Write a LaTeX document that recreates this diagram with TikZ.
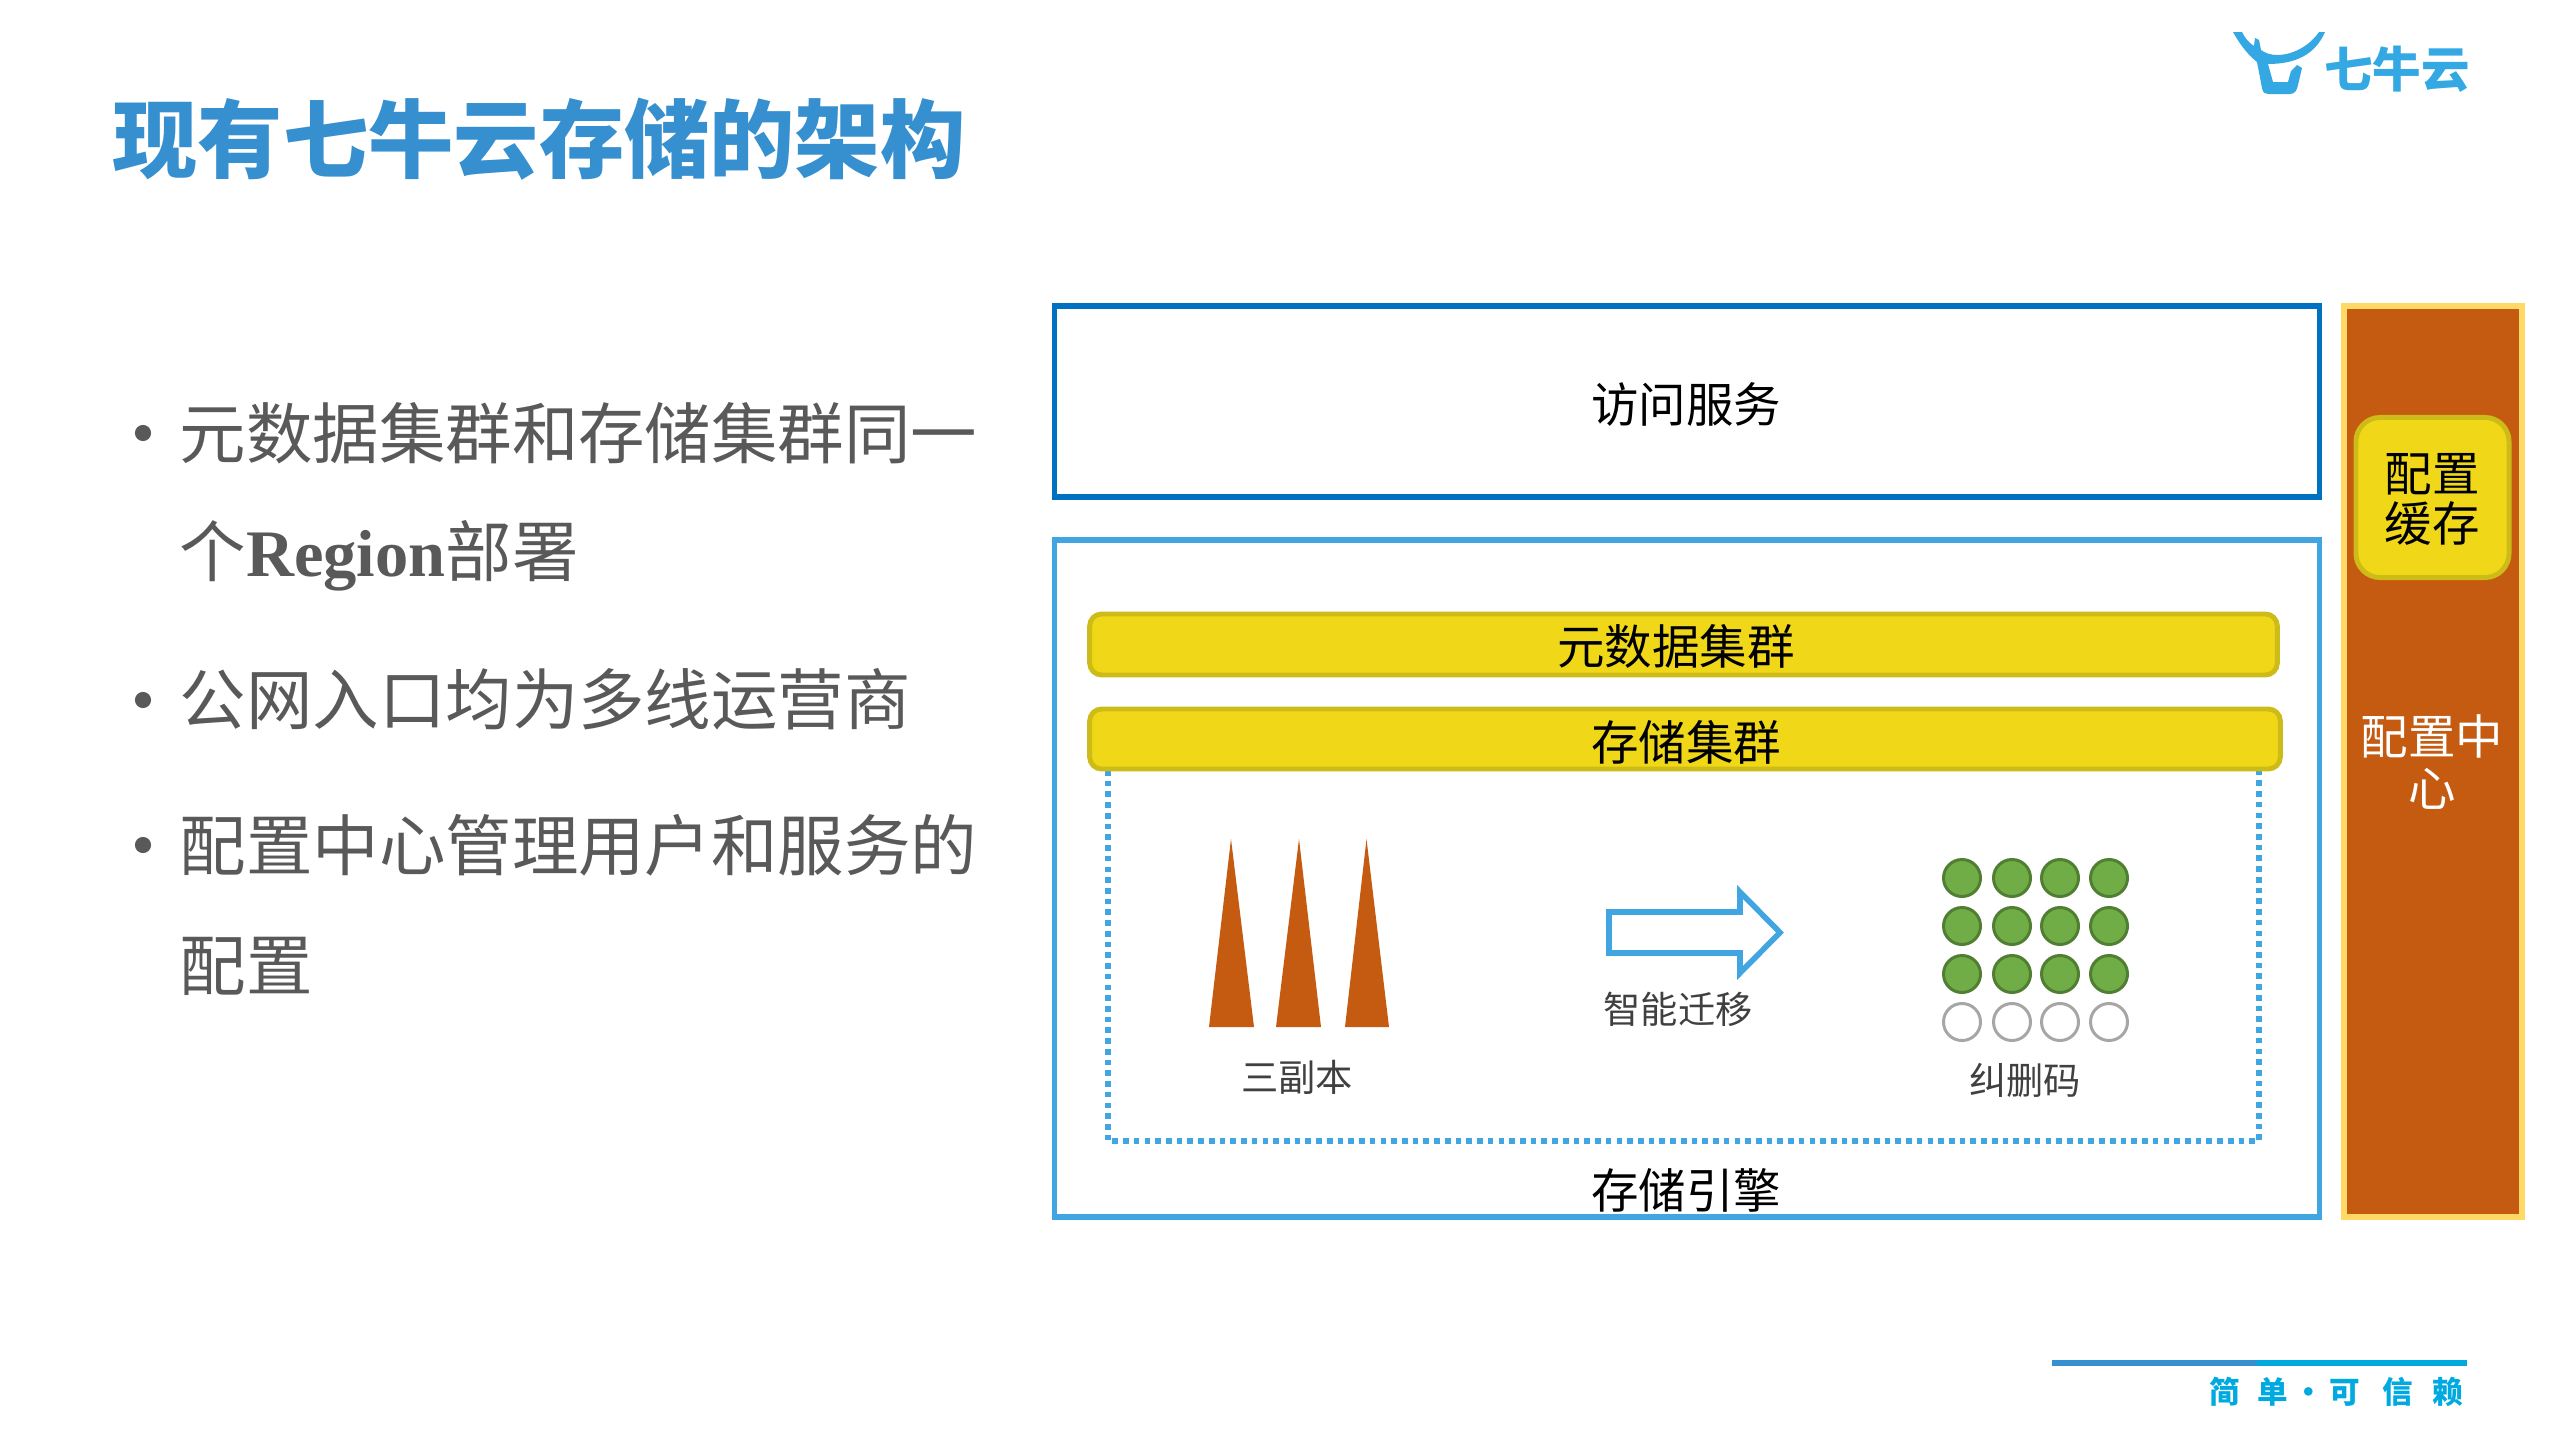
\documentclass[tikz,border=0pt]{standalone}
\usepackage{fontspec}
\setmainfont{Liberation Serif}
\newfontfamily\cjk{Noto Sans CJK SC}
\usepackage{tikz}
\usetikzlibrary{positioning}
\definecolor{titleblue}{HTML}{368FCE}
\definecolor{logoblue}{HTML}{33A8E2}
\definecolor{mottoblue}{HTML}{00AAE0}
\definecolor{accessblue}{HTML}{0070C0}
\definecolor{frameblue}{HTML}{41A5E1}
\definecolor{barfill}{HTML}{F0D818}
\definecolor{barline}{HTML}{CDBB17}
\definecolor{rust}{HTML}{C55A11}
\definecolor{centerline}{HTML}{FFD966}
\definecolor{bodygrey}{HTML}{595959}
\definecolor{capgrey}{HTML}{404040}
\definecolor{leafgreen}{HTML}{70AD47}
\definecolor{leafline}{HTML}{507E32}
\definecolor{sparegrey}{HTML}{A6A6A6}
\tikzset{
  frame/.style={draw=#1, line width=1.6pt, minimum width=12.64cm},
  bar/.style={draw=barline, fill=barfill, line width=1.4pt, rounded corners=1.2mm, inner sep=0pt},
  bullet/.style={circle, fill=bodygrey, inner sep=0pt, minimum size=4.6pt},
  point/.style={anchor=west, inner sep=0pt, text=bodygrey, font=\cjk\fontsize{18.9}{22}\selectfont},
  caption/.style={inner sep=0pt, text=capgrey, font=\cjk\fontsize{10.6}{12}\selectfont},
  heading/.style={inner sep=0pt, text=black, font=\cjk\fontsize{13.5}{15}\selectfont},
  spike/.style={fill=rust},
  dot/.style={circle, draw=#1, line width=0.85pt, minimum size=0.37cm, inner sep=0pt},
}
\begin{document}
\begin{tikzpicture}[x=0.01cm,y=-0.01cm]
  \useasboundingbox (0,0) rectangle (2559,1439);
  \node (title) at (112,139) [anchor=west, inner sep=0pt, text=titleblue, font=\cjk\bfseries\fontsize{24.25}{28}\selectfont] {现有七牛云存储的架构};

  \fill[logoblue] (2233,32) .. controls (2243,50) and (2252,58) .. (2257,62) -- (2262,88) .. controls (2263,93) and (2265,94) .. (2268,94) -- (2290,94) .. controls (2295,94) and (2297,90) .. (2298,85) -- (2302,68) -- (2297,65) -- (2291,71) -- (2288,82) -- (2273,82) -- (2268,64) .. controls (2295,64) and (2315,55) .. (2325,32) -- (2319,32) .. controls (2308,48) and (2290,55) .. (2278,55) .. controls (2270,55) and (2265,53) .. (2261,50) -- (2259,40) -- (2255,38) -- (2254,46) .. controls (2248,42) and (2245,38) .. (2242,32) -- cycle;
  \node (logo) at (2397,69) [inner sep=0pt, text=logoblue, font=\cjk\bfseries\fontsize{13.8}{15}\selectfont] {七牛云};

  \node (b1) at (143,433) [bullet] {};
  \node (p1) at (179,433) [point] {元数据集群和存储集群同一};
  \node (p1b) at (179,556) [point] {个{\rmfamily\bfseries Region}部署};
  \node (b2) at (143,700) [bullet] {};
  \node (p2) at (179,699) [point] {公网入口均为多线运营商};
  \node (b3) at (143,845) [bullet] {};
  \node (p3) at (179,845) [point] {配置中心管理用户和服务的};
  \node (p3b) at (179,966) [point] {配置};

  \node (access) at (1687,401.5) [frame=accessblue, minimum height=1.91cm] {};
  \node (accesstext) at (1686,404) [heading] {访问服务};
  \node (engine) at (1687,878.5) [frame=frameblue, minimum height=6.77cm] {};

  \draw[frameblue, line width=1.6pt, dash pattern=on 1.6pt off 1.45pt] (1108,770) -- (1108,1141) -- (2259,1141) -- (2259,770);
  \node (meta) at (1683.5,644.5) [bar, minimum width=11.87cm, minimum height=0.61cm] {};
  \node (metatext) at (1676,646) [heading] {元数据集群};
  \node (store) at (1685,739) [bar, minimum width=11.90cm, minimum height=0.60cm] {};
  \node (storetext) at (1686,742) [heading] {存储集群};
  \node (enginetext) at (1686,1190) [heading] {存储引擎};

  \fill[spike] (1231,839) -- (1254,1027) -- (1209,1027) -- cycle;
  \fill[spike] (1299,839) -- (1321,1027) -- (1276,1027) -- cycle;
  \fill[spike] (1366.5,839) -- (1389,1027) -- (1345,1027) -- cycle;
  \node (replica) at (1297,1077) [caption] {三副本};

  \draw[frameblue, line width=1.6pt, miter limit=10] (1609,912) -- (1740,912) -- (1740,892) -- (1780,932.5) -- (1740,973) -- (1740,953) -- (1609,953) -- cycle;
  \node (migrate) at (1678,1009) [caption] {智能迁移};

  \foreach \y/\name in {878/a,926/b,974/c} {
    \foreach \x/\col in {1962/1,2012/2,2060/3,2109/4} {
      \node (ec\name\col) at (\x,\y) [dot=leafline, fill=leafgreen] {};
    }
  }
  \foreach \x/\col in {1962/1,2012/2,2060/3,2109/4} {
    \node (ecd\col) at (\x,1022) [dot=sparegrey, fill=white] {};
  }
  \node (erasure) at (2025,1080) [caption] {纠删码};

  \node (center) at (2432.7,761.5) [draw=centerline, fill=rust, line width=1.7pt, minimum width=1.78cm, minimum height=9.11cm] {};
  \node (centertext) at (2432,762) [inner sep=0pt, align=center, text=white, font=\cjk\fontsize{13.5}{14.8}\selectfont] {配置中\\心};
  \node (cache) at (2432.5,497.5) [bar, rounded corners=2.4mm, minimum width=1.53cm, minimum height=1.60cm] {};
  \node (cachetext) at (2432,499) [inner sep=0pt, align=center, text=black, font=\cjk\fontsize{13.5}{14.2}\selectfont] {配置\\缓存};

  \draw[titleblue, line width=1.7pt] (2052,1363) -- (2257,1363);
  \draw[mottoblue, line width=1.7pt] (2257,1363) -- (2467,1363);
  \node (motto) at (2336,1392) [inner sep=0pt, text=mottoblue, font=\cjk\bfseries\fontsize{8.7}{10}\selectfont] {简\hspace{5.2pt}单\hspace{1.5pt}·\hspace{1.5pt}可\hspace{6.3pt}信\hspace{5.5pt}赖};
\end{tikzpicture}
\end{document}
